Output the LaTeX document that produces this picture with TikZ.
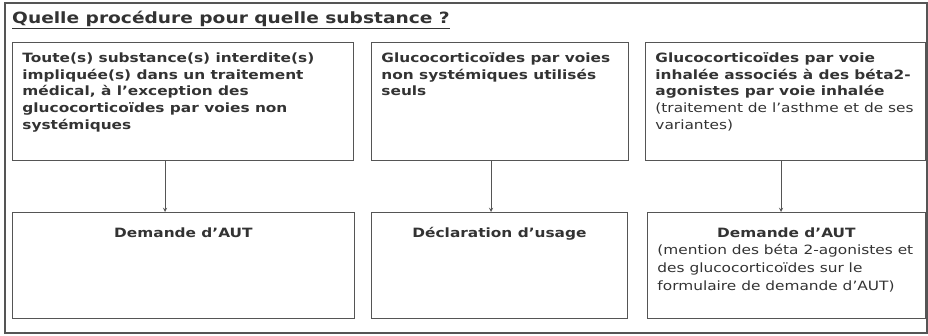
\documentclass[tikz,border=0pt]{standalone}
\usepackage{fontspec}
\setmainfont[FakeStretch=1.2]{DejaVu Sans}
\usetikzlibrary{arrows}

\definecolor{textgray}{HTML}{333333}
\definecolor{boxgray}{HTML}{555555}

% fixed size text area inside a box
\newcommand{\boxtext}[3]{\begin{minipage}[t][#2][t]{#1}#3\end{minipage}}
% lines that never break
\newcommand{\boxlines}[1]{\begin{tabular}[t]{@{}l@{}}#1\end{tabular}}

\tikzset{
  subbox/.style={draw=boxgray, line width=0.9pt, anchor=north west,
    inner xsep=10pt, inner ysep=8pt, text=textgray,
    font=\fontsize{12.8}{16.8}\selectfont\bfseries},
  procbox/.style={subbox, inner ysep=15pt,
    font=\fontsize{12.8}{17.8}\selectfont\bfseries}
}

\begin{document}
\begin{tikzpicture}[x=1pt,y=-1pt,>=stealth]
\useasboundingbox (0,0) rectangle (928,336);
% The frame
\draw[boxgray, line width=2.2pt] (5,3) rectangle (927,333);
% The title
\node[anchor=base west, text=textgray, font=\fontsize{15.5}{18}\selectfont\bfseries, inner sep=0pt]
  (title) at (12,24) {\underline{Quelle procédure pour quelle substance ?}};

% The substances
\node[subbox] (sub1) at (12,42) {\boxtext{321pt}{102pt}{\boxlines{%
  Toute(s) substance(s) interdite(s)\\
  impliquée(s) dans un traitement\\
  médical, à l’exception des\\
  glucocorticoïdes par voies non\\
  systémiques}}};
\node[subbox] (sub2) at (371,42) {\boxtext{237pt}{102pt}{\boxlines{%
  Glucocorticoïdes par voies\\
  non systémiques utilisés\\
  seuls}}};
\node[subbox] (sub3) at (645,42) {\boxtext{260pt}{102pt}{\boxlines{%
  Glucocorticoïdes par voie\\
  inhalée associés à des béta2-\\
  agonistes par voie inhalée\\
  \mdseries (traitement de l’asthme et de ses\\
  \mdseries variantes)}}};

% The procedures
\node[procbox] (proc1) at (12,212) {\boxtext{322pt}{76pt}{%
  \centering Demande d’AUT}};
\node[procbox] (proc2) at (371,212) {\boxtext{236pt}{76pt}{%
  \centering Déclaration d’usage}};
\node[procbox] (proc3) at (647,212) {\boxtext{258pt}{76pt}{%
  {\centering Demande d’AUT\par}
  \boxlines{%
  \mdseries (mention des béta 2-agonistes et\\
  \mdseries des glucocorticoïdes sur le\\
  \mdseries formulaire de demande d’AUT)}}};

% The arrows
\coordinate (a1) at (165,0);
\coordinate (a2) at (491,0);
\coordinate (a3) at (781,0);
\draw[->, boxgray, line width=0.9pt] (sub1.south -| a1) -- (proc1.north -| a1);
\draw[->, boxgray, line width=0.9pt] (sub2.south -| a2) -- (proc2.north -| a2);
\draw[->, boxgray, line width=0.9pt] (sub3.south -| a3) -- (proc3.north -| a3);
\end{tikzpicture}
\end{document}
